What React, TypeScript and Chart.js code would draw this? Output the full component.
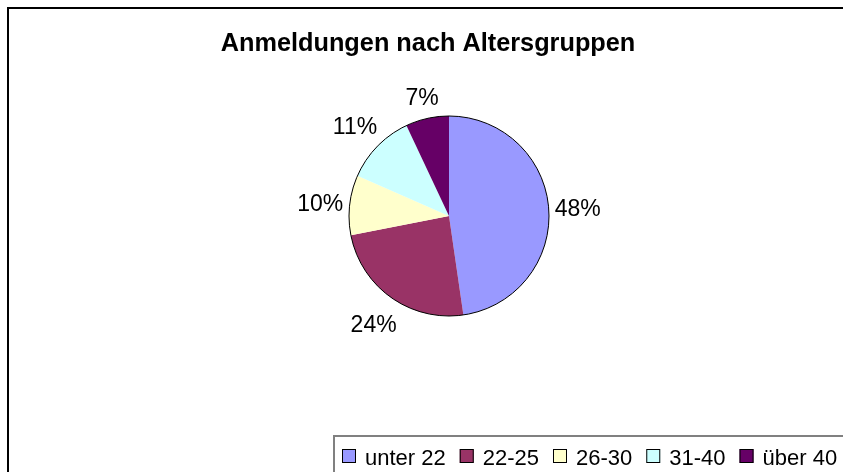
import React, { useEffect, useRef } from "react";
import { Chart, registerables } from "chart.js";

Chart.register(...registerables);

const titleText = "Anmeldungen nach Altersgruppen";
const categories = ["unter 22", "22-25", "26-30", "31-40", "über 40"];
// shares (labels round them to 48/24/10/11/7 %)
const values = [47.7, 24.2, 9.7, 11.4, 7.0];
const colors = ["#9999FF", "#993366", "#FFFFCC", "#CCFFFF", "#660066"];

const FONT = "'Liberation Sans', Arial, sans-serif";

export default function App() {
  const ref = useRef<HTMLCanvasElement>(null);

  useEffect(() => {
    const canvas = ref.current;
    if (!canvas) return;
    const total = values.reduce((a, b) => a + b, 0);

    const framePlugin = {
      id: "frame",
      beforeDraw(chart: any) {
        const ctx = chart.ctx;
        ctx.save();
        ctx.fillStyle = "#ffffff";
        ctx.fillRect(0, 0, chart.width, chart.height);
        ctx.strokeStyle = "#000000";
        ctx.lineWidth = 2;
        ctx.strokeRect(8, 8, 1000, 1000);
        // title
        ctx.fillStyle = "#000000";
        ctx.font = `bold 25.3px ${FONT}`;
        ctx.textAlign = "center";
        ctx.textBaseline = "alphabetic";
        ctx.fillText(titleText, 428, 51);
        ctx.restore();
      },
      afterDatasetsDraw(chart: any) {
        const ctx = chart.ctx;
        const meta = chart.getDatasetMeta(0);
        if (!meta.data.length) return;
        const first = meta.data[0] as any;
        ctx.save();
        // outer outline
        ctx.beginPath();
        ctx.arc(first.x, first.y, first.outerRadius, 0, Math.PI * 2);
        ctx.strokeStyle = "#000000";
        ctx.lineWidth = 1;
        ctx.stroke();
        // percentage labels
        ctx.fillStyle = "#000000";
        ctx.font = `23px ${FONT}`;
        ctx.textAlign = "center";
        ctx.textBaseline = "middle";
        meta.data.forEach((arc: any, i: number) => {
          const mid = (arc.startAngle + arc.endAngle) / 2;
          const dx = Math.cos(mid);
          const dy = Math.sin(mid);
          const text = Math.round((values[i] / total) * 100) + "%";
          const hw = ctx.measureText(text).width / 2;
          const R = arc.outerRadius + 5 + Math.abs(dx) * hw + Math.abs(dy) * 15;
          ctx.fillText(text, arc.x + dx * R, arc.y + dy * R + 3);
        });
        ctx.restore();
      },
      afterDraw(chart: any) {
        const ctx = chart.ctx;
        ctx.save();
        // legend box
        ctx.strokeStyle = "#808080";
        ctx.lineWidth = 2;
        ctx.strokeRect(334, 436, 1000, 100);
        ctx.font = `22px ${FONT}`;
        ctx.textAlign = "left";
        ctx.textBaseline = "alphabetic";
        let x = 342;
        categories.forEach((cat, i) => {
          ctx.fillStyle = colors[i];
          ctx.fillRect(x, 449, 14, 14);
          ctx.strokeStyle = "#000000";
          ctx.lineWidth = 1;
          ctx.strokeRect(x + 0.5, 449.5, 13, 13);
          ctx.fillStyle = "#000000";
          ctx.fillText(cat, x + 23, 465);
          x += 14 + 9 + ctx.measureText(cat).width + 14;
        });
        ctx.restore();
      },
    };

    const chart = new Chart(canvas, {
      type: "pie",
      data: {
        labels: categories,
        datasets: [
          {
            data: values,
            backgroundColor: colors,
            borderWidth: 0,
            offset: 0,
            hoverOffset: 0,
          },
        ],
      },
      options: {
        animation: false,
        responsive: false,
        events: [],
        layout: { padding: { left: 349, right: 294, top: 116, bottom: 156 } },
        plugins: {
          legend: { display: false },
          title: { display: false },
          tooltip: { enabled: false },
        },
      },
      plugins: [framePlugin],
    });
    return () => chart.destroy();
  }, []);

  return (
    <div style={{ position: "fixed", left: 0, top: 0, width: 843, height: 472 }}>
      <canvas ref={ref} width={843} height={472} style={{ display: "block" }} />
    </div>
  );
}
